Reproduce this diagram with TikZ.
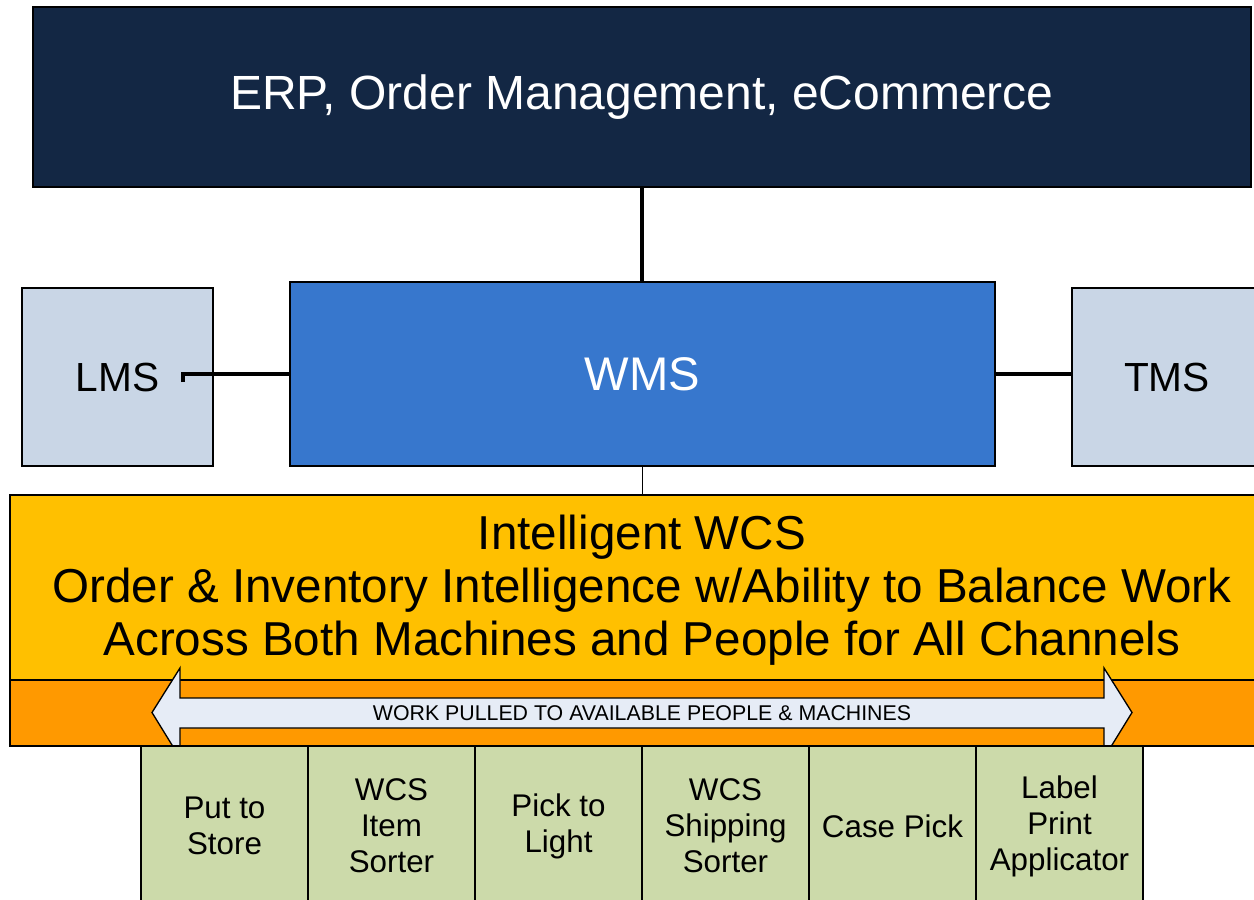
\documentclass[tikz,border=0pt]{standalone}
\usepackage{fontspec}
\setmainfont{Liberation Sans}
\definecolor{erpc}{RGB}{19,39,68}
\definecolor{wmsc}{RGB}{55,119,205}
\definecolor{sidec}{RGB}{201,214,230}
\definecolor{wcsc}{RGB}{255,192,0}
\definecolor{bandc}{RGB}{255,153,0}
\definecolor{arrowc}{RGB}{230,236,246}
\definecolor{greenc}{RGB}{204,218,170}
\tikzset{
  box/.style={draw=black, line width=1.5pt, rectangle, inner sep=0pt, align=center},
  conn/.style={draw=black, line width=2.6pt},
  thinconn/.style={draw=black, line width=0.8pt},
  unit/.style={box, fill=greenc, minimum width={167*0.75pt}, minimum height={160*0.75pt},
    font=\fontsize{23.5pt}{27pt}\selectfont},
}
\begin{document}
\begin{tikzpicture}[x=0.75pt, y=-0.75pt]
\useasboundingbox (0,0) rectangle (1254,900);
\clip (0,0) rectangle (1254,900);
% top
\node[box, fill=erpc, text=white, minimum width={1218*0.75pt}, minimum height={180*0.75pt},
  font=\fontsize{36pt}{42pt}\selectfont] (erp) at (642,97) {ERP, Order Management, eCommerce};
% WMS row
\node[box, fill=wmsc, text=white, minimum width={705*0.75pt}, minimum height={184*0.75pt},
  font=\fontsize{35.4pt}{41pt}\selectfont] (wms) at (642.5,374) {WMS};
\node[box, fill=sidec, minimum width={191*0.75pt}, minimum height={178*0.75pt},
  font=\fontsize{30.5pt}{36pt}\selectfont] (lms) at (117.5,377) {LMS};
\node[box, fill=sidec, minimum width={190*0.75pt}, minimum height={178*0.75pt},
  font=\fontsize{30.5pt}{36pt}\selectfont] (tms) at (1167,377) {TMS};
% WCS
\node[box, fill=wcsc, minimum width={1264*0.75pt}, minimum height={185*0.75pt}] (wcs) at (642,587.5) {};
\node[align=center, inner sep=0pt, font=\fontsize{35.7pt}{39.75pt}\selectfont] (wcstext) at (642,590)
  {Intelligent WCS\\Order \& Inventory Intelligence w/Ability to Balance Work\\Across Both Machines and People for All Channels};
\node[box, fill=bandc, minimum width={1264*0.75pt}, minimum height={66*0.75pt}] (band) at (642,713) {};
% double arrow
\draw[line width=1pt, fill=arrowc] (152,712.5) -- (180,668) -- (180,698) -- (1104,698) -- (1104,668)
  -- (1132,712.5) -- (1104,758) -- (1104,728) -- (180,728) -- (180,758) -- cycle;
\node[font=\fontsize{16pt}{19pt}\selectfont, inner sep=0pt] (worktxt) at (642,713)
  {WORK PULLED TO AVAILABLE PEOPLE \& MACHINES};
% bottom units
\node[unit] (u1) at (224.5,826) {Put to\\Store};
\node[unit] (u2) at (391.5,826) {WCS\\Item\\Sorter};
\node[unit] (u3) at (558.5,826) {Pick to\\Light};
\node[unit] (u4) at (725.5,826) {WCS\\Shipping\\Sorter};
\node[unit] (u5) at (892.5,826) {Case Pick};
\node[unit] (u6) at (1059.5,826) {Label\\Print\\Applicator};
% connectors
\draw[conn] (erp.south) -- (erp.south |- wms.north);
\draw[thinconn] (wms.south) -- (wms.south |- wcs.north);
\coordinate (lmsend) at (183,382);
\draw[conn] (lmsend) |- (wms.west);
\draw[conn] (wms.east) -- (wms.east -| tms.west);
\end{tikzpicture}
\end{document}
